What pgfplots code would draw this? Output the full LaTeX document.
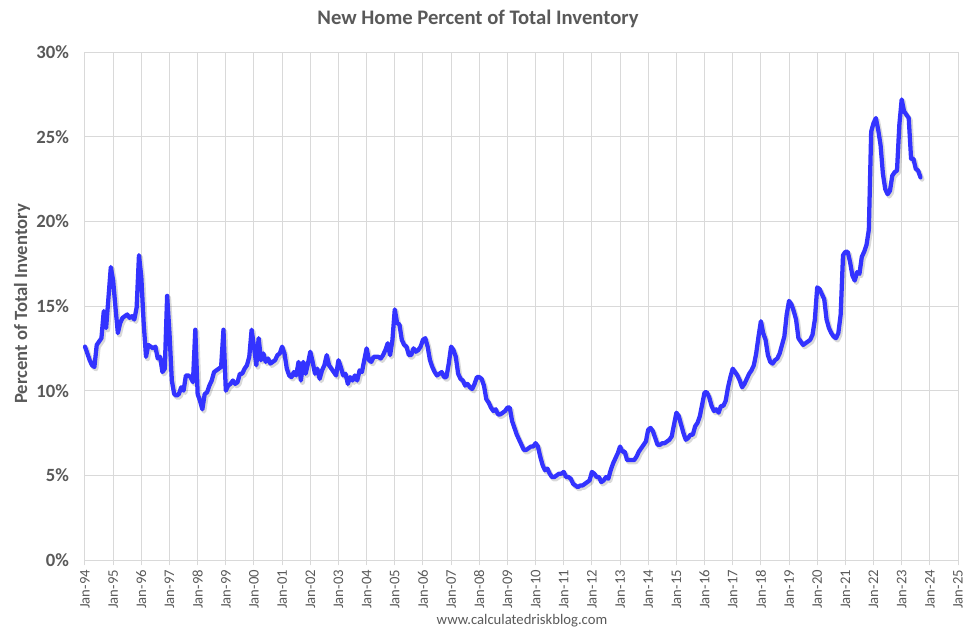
\documentclass[border=0pt]{standalone}
\usepackage{pgfplots}
\pgfplotsset{compat=1.18}
\usepackage{fontspec}
\setmainfont{Carlito}
\definecolor{txtgray}{HTML}{595959}
\definecolor{gridgray}{HTML}{D9D9D9}
\definecolor{lineblue}{HTML}{3333FF}
\begin{document}
\begin{tikzpicture}
% 1px of the original = 0.75pt
\begin{axis}[
    at={(0,0)}, anchor=south west,
    scale only axis,
    width=654.75pt, height=381pt,
    xmin=0, xmax=372, ymin=0, ymax=30,
    xtick={0,12,...,372},
    xticklabels={Jan-94,Jan-95,Jan-96,Jan-97,Jan-98,Jan-99,Jan-00,Jan-01,Jan-02,Jan-03,Jan-04,Jan-05,Jan-06,Jan-07,Jan-08,Jan-09,Jan-10,Jan-11,Jan-12,Jan-13,Jan-14,Jan-15,Jan-16,Jan-17,Jan-18,Jan-19,Jan-20,Jan-21,Jan-22,Jan-23,Jan-24,Jan-25},
    ytick={0,5,...,30},
    yticklabels={0\%,5\%,10\%,15\%,20\%,25\%,30\%},
    grid=major,
    grid style={gridgray, line width=0.75pt},
    axis line style={draw=none},
    xtick pos=bottom,
    tick align=outside,
    major tick length=4pt,
    xtick style={gridgray, line width=0.75pt},
    ytick style={draw=none},
    xticklabel style={rotate=90, anchor=east, font=\fontsize{11pt}{13pt}\selectfont, text=txtgray},
    yticklabel style={font=\fontsize{14pt}{16pt}\selectfont\bfseries, text=txtgray, xshift=-4.5pt},
    clip=false,
]

% New home share of total inventory, monthly (0 = Jan-94)
\addplot[lineblue, line width=3.2pt, line join=round, line cap=round,
    preaction={draw=black, opacity=0.15, line width=3.6pt, transform canvas={shift={(1.2pt,-1.5pt)}}}] coordinates {
(0,12.6)(1,12.2)(2,11.8)(3,11.5)(4,11.4)(5,12.7)(6,12.9)(7,13.1)(8,14.7)(9,13.7)
(11,17.3)(12,16.5)(13,14.9)(14,13.4)(15,14.0)(16,14.3)(17,14.4)(18,14.5)(19,14.3)(20,14.4)
(21,14.2)(22,14.9)(23,18.0)(24,16.7)(25,14.0)(26,12.0)(27,12.7)(28,12.6)(29,12.5)(30,12.6)
(31,11.9)(32,12.0)(33,11.1)(34,11.3)(35,15.6)(36,13.4)(37,10.6)(38,9.8)(39,9.7)(40,9.8)
(41,10.2)(42,10.0)(43,10.9)(44,10.9)(45,10.8)(46,10.5)(47,13.6)(48,9.8)(49,9.4)(50,8.9)
(51,9.8)(52,9.9)(53,10.3)(54,10.6)(55,11.1)(56,11.2)(57,11.3)(58,11.4)(59,13.6)(60,10.0)
(61,10.3)(62,10.4)(63,10.6)(64,10.4)(65,10.5)(66,11.0)(67,11.0)(68,11.3)(69,11.5)(70,12.0)
(71,13.6)(72,12.6)(73,11.5)(74,13.1)(75,11.8)(76,12.2)(77,11.7)(78,11.9)(79,11.6)(80,11.7)
(81,11.8)(82,12.1)(83,12.2)(84,12.6)(85,12.2)(86,11.3)(87,10.9)(88,10.8)(89,11.1)(90,10.9)
(91,11.7)(92,10.6)(93,11.7)(94,11.0)(95,11.6)(96,12.3)(97,11.7)(98,11.0)(99,11.3)(100,10.7)
(101,11.2)(102,11.5)(103,12.1)(104,11.5)(105,11.3)(106,11.1)(107,10.9)(108,11.8)(109,11.4)(110,10.9)
(111,11.0)(112,10.4)(113,10.8)(114,10.6)(115,10.9)(116,10.6)(117,11.2)(118,11.1)(119,11.8)(120,12.5)
(121,11.8)(122,11.7)(123,12.0)(124,12.0)(125,12.0)(126,11.9)(127,12.1)(128,12.4)(129,12.8)(130,12.1)
(131,13.0)(132,14.8)(133,14.0)(134,13.9)(135,13.0)(136,12.7)(137,12.6)(138,12.1)(139,12.1)(140,12.5)
(141,12.3)(142,12.4)(143,12.6)(144,13.0)(145,13.1)(146,12.6)(147,11.8)(148,11.4)(149,11.1)(150,10.9)
(151,11.0)(152,11.1)(153,10.8)(154,10.8)(155,11.6)(156,12.6)(157,12.4)(158,12.0)(159,11.0)(160,10.7)
(161,10.6)(162,10.3)(163,10.4)(164,10.2)(165,10.1)(166,10.4)(167,10.8)(168,10.8)(169,10.7)(170,10.3)
(171,9.5)(172,9.3)(173,9.0)(174,8.8)(175,8.9)(176,8.6)(177,8.6)(178,8.7)(179,8.8)(180,9.0)
(181,9.0)(182,8.2)(183,7.8)(184,7.4)(185,7.1)(186,6.8)(187,6.5)(188,6.5)(189,6.6)(190,6.7)
(191,6.7)(192,6.9)(193,6.7)(194,6.1)(195,5.6)(196,5.3)(197,5.4)(198,5.1)(199,4.9)(200,4.9)
(201,5.0)(202,5.1)(203,5.1)(204,5.2)(205,4.9)(206,4.9)(207,4.8)(208,4.5)(209,4.4)(210,4.3)
(211,4.4)(212,4.4)(213,4.5)(214,4.6)(215,4.7)(216,5.2)(217,5.1)(218,4.9)(219,4.9)(220,4.6)
(221,4.7)(222,4.9)(223,4.8)(224,5.3)(225,5.7)(226,6.0)(227,6.3)(228,6.7)(229,6.4)(230,6.4)
(231,5.9)(232,5.9)(233,5.9)(234,5.9)(235,6.1)(236,6.4)(237,6.6)(238,6.8)(239,7.0)(240,7.7)
(241,7.8)(242,7.6)(243,7.2)(244,6.8)(245,6.8)(246,6.9)(247,6.9)(248,7.0)(249,7.1)(250,7.3)
(251,8.0)(252,8.7)(253,8.5)(254,8.0)(255,7.5)(256,7.1)(257,7.2)(258,7.4)(259,7.4)(260,7.9)
(261,8.1)(262,8.5)(263,9.2)(264,9.9)(265,9.9)(266,9.6)(267,9.1)(268,8.8)(269,8.9)(270,8.7)
(271,9.1)(272,9.1)(273,9.4)(274,10.2)(275,10.8)(276,11.3)(277,11.1)(278,10.9)(279,10.6)(280,10.2)
(281,10.4)(282,10.7)(283,11.0)(284,11.2)(285,11.5)(286,12.2)(287,13.2)(288,14.1)(289,13.4)(290,13.0)
(291,12.1)(292,11.7)(293,11.6)(294,11.8)(295,11.9)(296,12.2)(297,12.7)(298,13.2)(299,14.5)(300,15.3)
(301,15.1)(302,14.7)(303,14.2)(304,13.1)(305,12.9)(306,12.7)(307,12.8)(308,12.9)(309,13.0)(310,13.3)
(311,14.2)(312,16.1)(313,16.0)(314,15.7)(315,15.4)(316,14.2)(317,13.7)(318,13.4)(319,13.2)(320,13.1)
(321,13.4)(322,14.5)(323,18.0)(324,18.2)(325,18.2)(326,17.6)(327,16.8)(328,16.5)(329,17.0)(330,16.9)
(331,17.9)(332,18.2)(333,18.6)(334,19.5)(335,25.3)(336,25.8)(337,26.1)(338,25.4)(339,24.5)(340,22.8)
(341,21.9)(342,21.6)(343,21.8)(344,22.7)(345,22.9)(346,23.0)(347,25.7)(348,27.2)(349,26.5)(350,26.3)
(351,26.1)(352,23.7)(353,23.7)(354,23.1)(355,23.0)(356,22.6)
};
\end{axis}

% title, axis label, footer
\node[anchor=base, font=\fontsize{15.5pt}{18pt}\selectfont\bfseries, text=txtgray] at (294.75pt,401.25pt) {New Home Percent of Total Inventory};
\node[rotate=90, font=\fontsize{14pt}{16pt}\selectfont\bfseries, text=txtgray] at (-47.25pt,192pt) {Percent of Total Inventory};
\node[anchor=base, font=\fontsize{11pt}{13pt}\selectfont, text=txtgray] at (327.75pt,-48pt) {www.calculatedriskblog.com};

\pgfresetboundingbox
\path[use as bounding box] (-63.75pt,-54pt) rectangle (666pt,420pt);
\end{tikzpicture}
\end{document}
